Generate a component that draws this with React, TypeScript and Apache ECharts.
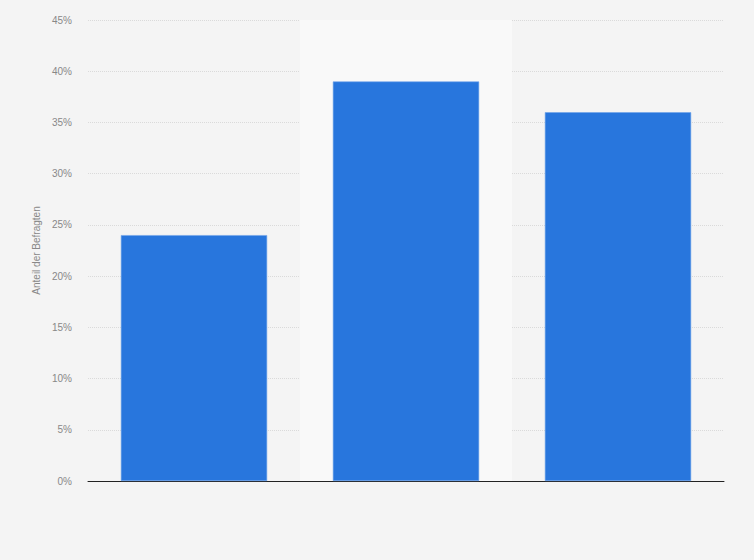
import { useEffect, useRef } from "react";
import * as echarts from "echarts";

const categories = ["A", "B", "C"];
const shares = [24, 39, 36];
const highlight = ["-", 45, "-"];
const yTicks = [0, 5, 10, 15, 20, 25, 30, 35, 40, 45];

export default function App() {
  const chartRef = useRef<HTMLDivElement>(null);

  useEffect(() => {
    document.body.style.margin = "0";
    const chart = echarts.init(chartRef.current, null, { renderer: "svg" });

    const options = {
      animation: false,
      backgroundColor: "#f4f4f4",
      textStyle: { fontFamily: "'Liberation Sans', Arial, sans-serif" },
      grid: { left: 88, right: 30, top: 20, bottom: 79 },
      xAxis: [
        {
          type: "category",
          data: categories,
          axisLine: { lineStyle: { color: "#222", width: 1 } },
          axisTick: { show: false },
          axisLabel: { show: false },
        },
        {
          type: "category",
          data: categories,
          show: false,
        },
      ],
      yAxis: {
        type: "value",
        min: yTicks[0],
        max: yTicks[yTicks.length - 1],
        interval: 5,
        name: "Anteil der Befragten",
        nameLocation: "middle",
        nameGap: 42,
        nameTextStyle: { color: "#888", fontSize: 10 },
        axisLabel: {
          color: "#888",
          fontSize: 10,
          margin: 16,
          formatter: "{value}%",
        },
        axisLine: { show: false },
        axisTick: { show: false },
        splitLine: {
          lineStyle: { color: "#dadada", type: [1, 1], width: 1 },
        },
      },
      series: [
        {
          type: "bar",
          xAxisIndex: 1,
          data: highlight,
          barWidth: "100%",
          itemStyle: { color: "#f9f9f9" },
          z: 0,
          silent: true,
        },
        {
          type: "bar",
          xAxisIndex: 0,
          data: shares,
          barWidth: "69%",
          itemStyle: {
            color: "#2876dd",
            borderColor: "#6fa3ea",
            borderWidth: 0.6,
          },
          z: 3,
        },
      ],
    };

    chart.setOption(options);

    return () => {
      chart.dispose();
    };
  }, []);

  return <div ref={chartRef} style={{ width: "754px", height: "560px" }} />;
}
